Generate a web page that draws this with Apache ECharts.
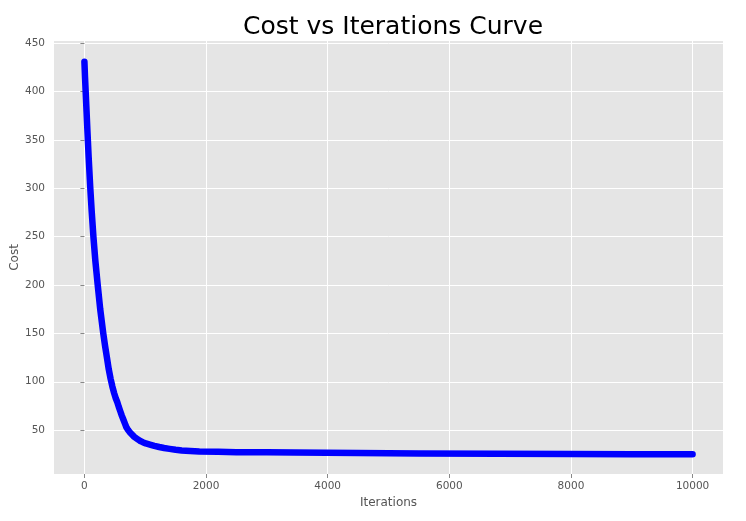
<!DOCTYPE html>
<html>
<head>
<meta charset="utf-8">
<script src="https://cdn.jsdelivr.net/npm/echarts@6/dist/echarts.min.js"></script>
<style>
html,body{margin:0;padding:0;background:#fff;}
#chart{width:746px;height:521px;}
</style>
</head>
<body>
<div id="chart"></div>
<script>
var iterations = [0, 10, 20, 35, 50, 70, 95, 120, 148, 180, 219, 260, 310, 340, 370, 400, 431, 460, 490, 515, 540, 565, 590, 615, 637, 665, 690, 719, 750, 780, 820, 866, 910, 960, 1010, 1077, 1150, 1230, 1310, 1400, 1500, 1600, 1740, 1890, 2200, 2500, 3000, 3450, 4500, 5500, 6800, 8000, 9000, 10000];
var costs = [431, 415, 401, 380, 359, 332, 302, 276, 250, 225, 200, 175, 150, 137, 125, 113, 103, 95, 88, 83, 79, 74, 69.5, 65, 61.5, 57, 53, 50, 47.5, 45.5, 43, 41, 39, 37.5, 36.2, 35, 33.7, 32.5, 31.5, 30.6, 29.7, 29, 28.4, 27.8, 27.5, 27.2, 27.0, 26.8, 26.2, 25.9, 25.6, 25.3, 25.1, 25.0];
var xTicks = [0, 2000, 4000, 6000, 8000, 10000];
var yTicks = [50, 100, 150, 200, 250, 300, 350, 400, 450];

var points = iterations.map(function (x, i) { return [x, costs[i]]; });
var font = 'DejaVu Sans';
var chart = echarts.init(document.getElementById('chart'), null, {renderer: 'canvas'});
chart.setOption({
  animation: false,
  backgroundColor: '#ffffff',
  title: {
    text: 'Cost vs Iterations Curve',
    left: 388, top: 10, textAlign: 'center',
    textStyle: {fontFamily: font, fontSize: 25, fontWeight: 'normal', color: '#000000'}
  },
  grid: {left: 54, right: 23, top: 41, bottom: 47, show: true, backgroundColor: '#E5E5E5', borderWidth: 0, containLabel: false, outerBoundsMode: 'none'},
  xAxis: {
    type: 'value', min: -500, max: 10500,
    name: 'Iterations', nameLocation: 'middle', nameGap: 21,
    nameTextStyle: {fontFamily: font, fontSize: 12, color: '#555555'},
    axisLine: {show: false},
    axisTick: {show: true, length: 4, customValues: xTicks, lineStyle: {color: '#888888'}},
    axisLabel: {customValues: xTicks, margin: 7, fontFamily: font, fontSize: 10.5, color: '#555555',
      formatter: function (v) { return String(v); }},
    splitLine: {show: true, lineStyle: {color: '#ffffff', width: 1}}
  },
  yAxis: {
    type: 'value', min: 4.6, max: 452.4,
    name: 'Cost', nameLocation: 'middle', nameGap: 33, nameMoveOverlap: false,
    nameTextStyle: {fontFamily: font, fontSize: 12, color: '#555555'},
    axisLine: {show: false},
    axisTick: {show: true, length: 4, customValues: yTicks, lineStyle: {color: '#888888'}},
    axisLabel: {customValues: yTicks, margin: 9, fontFamily: font, fontSize: 10.5, color: '#555555',
      formatter: function (v) { return String(v); }},
    splitLine: {show: true, lineStyle: {color: '#ffffff', width: 1}}
  },
  series: [{
    type: 'line',
    data: points,
    smooth: false,
    showSymbol: false,
    symbol: 'none',
    lineStyle: {color: '#0000ff', width: 6.5, cap: 'round', join: 'round'},
    z: 3
  }]
});
</script>
</body>
</html>
